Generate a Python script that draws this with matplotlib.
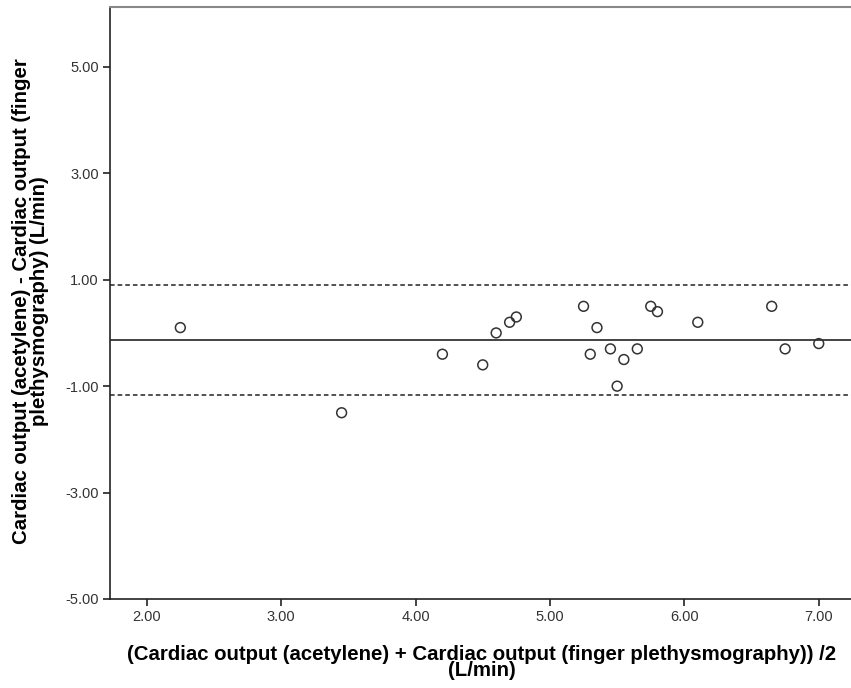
import numpy as np
import matplotlib.pyplot as plt

plt.rcParams['font.family'] = ['Liberation Sans', 'DejaVu Sans']

# mean of the two methods (L/min)
mean_co = [2.25, 3.45, 4.20, 4.50, 4.60, 4.70, 4.75, 5.25, 5.30, 5.35,
           5.45, 5.50, 5.55, 5.65, 5.75, 5.80, 6.10, 6.65, 6.75, 7.00]
# difference acetylene - finger plethysmography (L/min)
diff_co = [0.10, -1.50, -0.40, -0.60, 0.00, 0.20, 0.30, 0.50, -0.40, 0.10,
           -0.30, -1.00, -0.50, -0.30, 0.50, 0.40, 0.20, 0.50, -0.30, -0.20]

bias = -0.13
upper_loa = 0.90
lower_loa = -1.16

x_ticks = [2, 3, 4, 5, 6, 7]
y_ticks = [-5, -3, -1, 1, 3, 5]

fig = plt.figure(figsize=(8.51, 6.88), dpi=100)
ax = fig.add_axes([0.1293, 0.1294, 0.8707, 0.8604])

ax.scatter(mean_co, diff_co, s=50, facecolors='none', edgecolors='#333333',
           linewidths=1.1, zorder=3)

ax.axhline(bias, color='#222222', lw=1.2)
ax.axhline(upper_loa, color='#222222', lw=1.1, ls=(0, (3, 2)))
ax.axhline(lower_loa, color='#222222', lw=1.1, ls=(0, (3, 2)))

ax.set_xlim(1.727, 7.24)
ax.set_ylim(-5, 6.125)
ax.set_xticks(x_ticks)
ax.set_yticks(y_ticks)
ax.set_xticklabels(['%.2f' % t for t in x_ticks])
ax.set_yticklabels(['%.2f' % t for t in y_ticks])
ax.tick_params(direction='out', length=5, width=1.2, color='#222222',
               labelsize=10.5, labelcolor='#333333', pad=3)

ax.spines['right'].set_visible(False)
ax.spines['top'].set_color('#888888')
ax.spines['top'].set_linewidth(1.5)
for s in ['left', 'bottom']:
    ax.spines[s].set_color('#222222')
    ax.spines[s].set_linewidth(1.2)

ax.set_xlabel('(Cardiac output (acetylene) + Cardiac output (finger plethysmography)) /2\n(L/min)',
              fontsize=14.7, fontweight='bold', linespacing=0.82)
ax.set_ylabel('Cardiac output (acetylene) - Cardiac output (finger\nplethysmography) (L/min)',
              fontsize=14.7, fontweight='bold', linespacing=0.92)
ax.xaxis.set_label_coords(0.502, -0.077)
ax.yaxis.set_label_coords(-0.083, 0.5025)

fig.savefig('out.png', dpi=100)
